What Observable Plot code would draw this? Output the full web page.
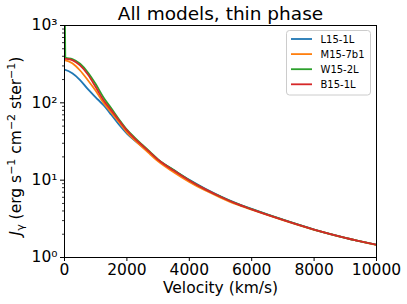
<!DOCTYPE html>
<html><head><meta charset="utf-8">
<script src="https://cdn.jsdelivr.net/npm/d3@7"></script>
<script src="https://cdn.jsdelivr.net/npm/@observablehq/plot@0.6"></script>
<style>body{margin:0;background:#fff}svg{font-family:"DejaVu Sans"}</style>
</head><body><div id="chart"></div>
<script>
const velocity = [0, 25, 250, 500, 750, 1000, 1250, 1500, 1750, 2000, 2250, 2500, 2750, 3000, 3500, 4000, 4500, 5000, 5500, 6000, 7000, 8000, 9000, 10000];
const seriesNames = ["L15-1L", "M15-7b1", "W15-2L", "B15-1L"];
const seriesColors = ["#1f77b4", "#ff7f0e", "#2ca02c", "#d62728"];
const L15_1L  = [268, 267, 241, 197, 150, 118, 93, 70, 52, 40, 32.5, 27, 22.2, 18.2, 13.5, 10.1, 7.8, 6.2, 5.05, 4.25, 3.08, 2.30, 1.80, 1.46];
const M15_7b1 = [355, 354, 325, 262, 196, 143, 100, 75, 56, 41.5, 33, 26.5, 21.5, 17.5, 12.7, 9.5, 7.4, 5.95, 4.88, 4.15, 3.04, 2.28, 1.79, 1.45];
const W15_2L  = [5000, 385, 368, 320, 247, 175, 117, 85, 61, 45, 35.5, 28.5, 23, 18.6, 13.5, 10.0, 7.7, 6.15, 5.0, 4.22, 3.08, 2.30, 1.80, 1.46];
const B15_1L  = [372, 371, 357, 305, 232, 160, 108, 80, 59, 44, 34.5, 28, 22.7, 18.4, 13.3, 9.9, 7.65, 6.1, 4.97, 4.2, 3.07, 2.30, 1.80, 1.46];
const xTicks = [0, 2000, 4000, 6000, 8000, 10000];
const yTicks = [1, 10, 100, 1000];
const yTickLabels = ["10⁰", "10¹", "10²", "10³"];
const titleText = "All models, thin phase";
const xLabel = "Velocity (km/s)";

const seriesValues = [L15_1L, M15_7b1, W15_2L, B15_1L];
const rows = [];
seriesNames.forEach((name, i) => velocity.forEach((v, j) => rows.push({series: name, v, value: seriesValues[i][j]})));
const minor = [];
for (let d = 1; d < 1000; d *= 10) for (let k = 2; k <= 9; k++) minor.push(d * k);

const chart = Plot.plot({
  width: 407, height: 304,
  marginLeft: 64, marginRight: 31, marginTop: 25, marginBottom: 47,
  style: {fontFamily: "DejaVu Sans", color: "black", background: "white"},
  x: {domain: [0, 10000], label: null},
  y: {type: "log", domain: [1, 1000], label: null},
  color: {domain: seriesNames, range: seriesColors},
  marks: [
    Plot.line(rows, {x: "v", y: "value", stroke: "series", z: "series", curve: "monotone-x", strokeWidth: 1.8, clip: true}),
    Plot.frame({stroke: "black", strokeWidth: 1}),
    Plot.axisX({ticks: xTicks, tickSize: 4, tickPadding: 2, fontSize: 15.5, tickFormat: d => String(d), strokeOpacity: 1}),
    Plot.axisY({ticks: yTicks, tickSize: 4, tickPadding: 3, fontSize: 15.5, tickFormat: d => yTickLabels[yTicks.indexOf(d)], strokeOpacity: 1}),
    Plot.axisY(minor, {tickSize: 2, tickFormat: () => "", strokeOpacity: 1, strokeWidth: 0.8}),
    Plot.text([titleText], {frameAnchor: "top", lineAnchor: "middle", dy: -11, fontSize: 18.5, fill: "black"}),
    Plot.text([xLabel], {frameAnchor: "bottom", lineAnchor: "middle", dy: 31, fontSize: 15.5, fill: "black"})
  ]
});

const svg = d3.select(chart);
// y label with sub/superscripts
const yl = svg.append("text")
  .attr("transform", "translate(21,146) rotate(-90)")
  .attr("text-anchor", "middle")
  .attr("font-size", 15.5)
  .attr("fill", "black");
yl.append("tspan").attr("font-style", "italic").text("J");
yl.append("tspan").attr("font-size", 11).attr("dy", 3).text("γ");
yl.append("tspan").attr("dy", -3).text(" (erg s");
yl.append("tspan").attr("font-size", 11).attr("dy", -6).text("−1");
yl.append("tspan").attr("dy", 6).text(" cm");
yl.append("tspan").attr("font-size", 11).attr("dy", -6).text("−2");
yl.append("tspan").attr("dy", 6).text(" ster");
yl.append("tspan").attr("font-size", 11).attr("dy", -6).text("−1");
yl.append("tspan").attr("dy", 6).text(")");

// legend
const lg = svg.append("g");
lg.append("rect").attr("x", 286.5).attr("y", 30.5).attr("width", 84).attr("height", 64.5)
  .attr("rx", 3).attr("fill", "white").attr("fill-opacity", 0.8).attr("stroke", "#cccccc");
seriesNames.forEach((name, i) => {
  const y = 39 + i * 15.1;
  lg.append("line").attr("x1", 291).attr("x2", 312).attr("y1", y).attr("y2", y)
    .attr("stroke", seriesColors[i]).attr("stroke-width", 1.8);
  lg.append("text").attr("x", 320.5).attr("y", y).attr("dy", "0.35em")
    .attr("text-anchor", "start")
    .attr("font-size", 10).attr("fill", "black").text(name);
});

document.getElementById("chart").appendChild(chart);
</script>
</body></html>
